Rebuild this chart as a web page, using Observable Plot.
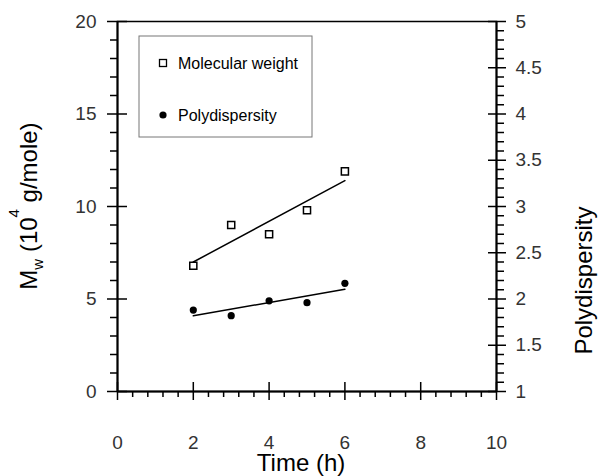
<!DOCTYPE html>
<html>
<head>
<meta charset="utf-8">
<script src="https://cdn.jsdelivr.net/npm/d3@7"></script>
<script src="https://cdn.jsdelivr.net/npm/@observablehq/plot@0.6"></script>
<style>
  html, body { margin: 0; padding: 0; background: #fff; }
  #chart { width: 600px; height: 476px; }
</style>
</head>
<body>
<div id="chart"></div>
<script>
// ---- data ----
const time = [2, 3, 4, 5, 6];                       // h
const molWeight = [6.8, 9.0, 8.5, 9.8, 11.9];       // Mw (10^4 g/mole)
const polyDisp = [1.88, 1.82, 1.98, 1.96, 2.17];    // polydispersity (right axis)

const xMajor = [0, 2, 4, 6, 8, 10];
const yMajor = [0, 5, 10, 15, 20];
const pdMajor = [1, 1.5, 2, 2.5, 3, 3.5, 4, 4.5, 5];
const legendLabels = ["Molecular weight", "Polydispersity"];

// right axis (1..5) mapped onto left axis (0..20)
const pdToY = p => (p - 1) * 5;
const yToPd = y => Math.round((y / 5 + 1) * 10) / 10;

const xMinor = d3.range(0, 26).map(k => k * 0.4).filter(v => Math.abs(v / 2 - Math.round(v / 2)) > 1e-6);
const yMinor = d3.range(0, 21).filter(v => v % 5 !== 0);
const pdMajorPos = pdMajor.map(pdToY);
const pdMinorPos = d3.range(0, 41).filter(k => k % 5 !== 0).map(k => k * 0.5);

const data = time.map((t, i) => ({t, mw: molWeight[i], pdY: pdToY(polyDisp[i])}));

const blank = () => "";
const tickStyle = {strokeWidth: 1.5, stroke: "#000", label: null, tickFormat: blank};

const svg = Plot.plot({
  width: 600,
  height: 476,
  marginLeft: 117,
  marginRight: 104,
  marginTop: 21,
  marginBottom: 85,
  x: {domain: [0, 10]},
  y: {domain: [0, 20]},
  style: {fontFamily: "'Liberation Sans', Arial, sans-serif", background: "#fff", overflow: "visible"},
  marks: [
    Plot.frame({stroke: "#000", strokeWidth: 1.5}),
    Plot.ruleX([0, 10], {stroke: "#000", strokeWidth: 2}),
    Plot.ruleY([0], {stroke: "#000", strokeWidth: 2}),

    // left axis: minor outward, major crossing
    Plot.axisY({anchor: "left", ticks: yMinor, tickSize: 7, ...tickStyle}),
    Plot.axisY({anchor: "left", ticks: yMajor, tickSize: 20, dx: 10, ...tickStyle}),
    Plot.axisY({anchor: "left", ticks: yMajor, tickSize: 0, tickPadding: 21, fontSize: 19, fill: "#333", label: null}),

    // right axis
    Plot.axisY({anchor: "right", ticks: pdMinorPos, tickSize: 7, ...tickStyle}),
    Plot.axisY({anchor: "right", ticks: pdMajorPos, tickSize: 18, dx: -9, ...tickStyle}),
    Plot.axisY({anchor: "right", ticks: pdMajorPos, tickSize: 0, tickPadding: 19, fontSize: 19, fill: "#333", label: null, tickFormat: yToPd}),

    // bottom axis
    Plot.axisX({anchor: "bottom", ticks: xMinor, tickSize: 6, ...tickStyle}),
    Plot.axisX({anchor: "bottom", ticks: xMajor, tickSize: 18, dy: -9, ...tickStyle}),
    Plot.axisX({anchor: "bottom", ticks: xMajor, tickSize: 0, tickPadding: 44, fontSize: 19, fill: "#333", label: null}),

    // titles
    Plot.text(["Time (h)"], {frameAnchor: "bottom", dy: 79, dx: -6, fontSize: 24, fill: "#000"}),
    Plot.text(["Polydispersity"], {frameAnchor: "right", rotate: -90, dx: 88, fontSize: 24, fill: "#000"}),

    // fits and points
    Plot.linearRegressionY(data, {x: "t", y: "mw", ci: 0, stroke: "#000", strokeWidth: 1.5}),
    Plot.linearRegressionY(data, {x: "t", y: "pdY", ci: 0, stroke: "#000", strokeWidth: 1.5}),
    Plot.dot(data, {x: "t", y: "mw", symbol: "square", r: 4, stroke: "#000", strokeWidth: 1.5, fill: "#fff"}),
    Plot.dot(data, {x: "t", y: "pdY", r: 3.6, fill: "#000", stroke: "none"})
  ]
});

document.getElementById("chart").appendChild(svg);

// left axis title with subscript / superscript
const s = d3.select(svg);
const title = s.append("text")
  .attr("transform", "translate(37,206) rotate(-90)")
  .attr("text-anchor", "middle")
  .attr("font-size", 24)
  .attr("fill", "#000");
title.append("tspan").text("M");
title.append("tspan").attr("font-size", 15).attr("dy", 6).text("w");
title.append("tspan").attr("dy", -6).text(" (10");
title.append("tspan").attr("font-size", 15).attr("dy", -18).text("4");
title.append("tspan").attr("dy", 18).text(" g/mole)");

// legend
const lg = s.append("g").attr("font-size", 16).attr("fill", "#000").attr("text-anchor", "start");
lg.append("rect").attr("x", 139).attr("y", 36).attr("width", 173).attr("height", 101)
  .attr("fill", "none").attr("stroke", "#777").attr("stroke-width", 1);
lg.append("rect").attr("x", 159.5).attr("y", 59.5).attr("width", 7).attr("height", 7)
  .attr("fill", "#fff").attr("stroke", "#000").attr("stroke-width", 1.3);
lg.append("circle").attr("cx", 163).attr("cy", 115).attr("r", 3.6).attr("fill", "#000");
lg.append("text").attr("x", 178).attr("y", 63).attr("dy", "0.35em").attr("text-anchor", "start").text(legendLabels[0]);
lg.append("text").attr("x", 178).attr("y", 115).attr("dy", "0.35em").attr("text-anchor", "start").text(legendLabels[1]);
</script>
</body>
</html>
